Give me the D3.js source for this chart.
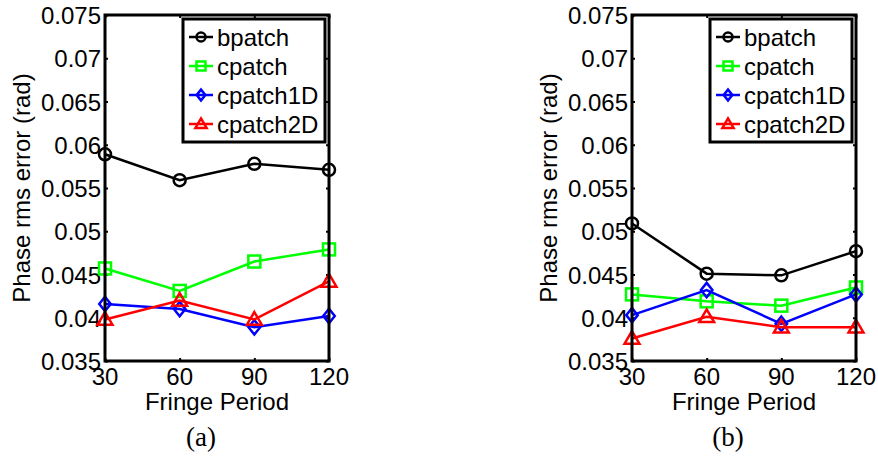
<!DOCTYPE html>
<html>
<head>
<meta charset="utf-8">
<script src="https://cdn.jsdelivr.net/npm/d3@7"></script>
<style>
body { margin: 0; background: #fff; }
</style>
</head>
<body>
<div id="chart"></div>
<script>
const periods = [30, 60, 90, 120];
const yTicks = [0.035, 0.04, 0.045, 0.05, 0.055, 0.06, 0.065, 0.07, 0.075];
const seriesNames = ["bpatch", "cpatch", "cpatch1D", "cpatch2D"];

// panel (a)
const a_bpatch = [0.0589, 0.0559, 0.0578, 0.0571];
const a_cpatch = [0.0457, 0.0431, 0.0465, 0.0479];
const a_cpatch1D = [0.0416, 0.0410, 0.0389, 0.0402];
const a_cpatch2D = [0.0398, 0.0420, 0.0398, 0.0442];

// panel (b)
const b_bpatch = [0.0509, 0.0451, 0.0449, 0.0477];
const b_cpatch = [0.0427, 0.0419, 0.0414, 0.0435];
const b_cpatch1D = [0.0403, 0.0432, 0.0393, 0.0427];
const b_cpatch2D = [0.0376, 0.0401, 0.0389, 0.0389];

const colors = ["#000000", "#00ff00", "#0000ff", "#ff0000"];
const shapes = ["circle", "square", "diamond", "triangle"];

const W = 878, H = 457;
const svg = d3.select("#chart").append("svg")
    .attr("width", W).attr("height", H)
    .style("font-family", "Liberation Sans, Arial, sans-serif");

function marker(g, shape, x, y, s, color, sw) {
    let el;
    if (shape == "circle") {
        el = g.append("circle").attr("cx", x).attr("cy", y).attr("r", s / 2);
    } else if (shape == "square") {
        el = g.append("rect").attr("x", x - s / 2).attr("y", y - s / 2)
            .attr("width", s).attr("height", s);
    } else if (shape == "diamond") {
        const r = s * 0.6;
        el = g.append("path").attr("d", `M${x},${y - r}L${x + r * 0.8},${y}L${x},${y + r}L${x - r * 0.8},${y}Z`);
    } else {
        const r = s * 0.62;
        el = g.append("path").attr("d", `M${x},${y - r}L${x + r},${y + r * 0.7}L${x - r},${y + r * 0.7}Z`);
    }
    el.attr("fill", "none").attr("stroke", color).attr("stroke-width", sw);
}

function panel(left, series, label) {
    const x0 = left, x1 = left + 224, y0 = 15, y1 = 361;
    const x = d3.scaleLinear().domain([30, 120]).range([x0, x1]);
    const y = d3.scaleLinear().domain([0.035, 0.075]).range([y1, y0]);
    const g = svg.append("g");

    // inner ticks on all sides
    g.append("g").attr("transform", `translate(0,${y1})`)
        .call(d3.axisBottom(x).tickValues(periods).tickSize(-3).tickFormat(""))
        .call(a => a.select(".domain").remove());
    g.append("g").attr("transform", `translate(0,${y0})`)
        .call(d3.axisTop(x).tickValues(periods).tickSize(-3).tickFormat(""))
        .call(a => a.select(".domain").remove());
    g.append("g").attr("transform", `translate(${x0},0)`)
        .call(d3.axisLeft(y).tickValues(yTicks).tickSize(-3).tickFormat(""))
        .call(a => a.select(".domain").remove());
    g.append("g").attr("transform", `translate(${x1},0)`)
        .call(d3.axisRight(y).tickValues(yTicks).tickSize(-3).tickFormat(""))
        .call(a => a.select(".domain").remove());
    g.selectAll(".tick line").attr("stroke", "#000").attr("stroke-width", 2);

    // tick labels
    g.selectAll(".xl").data(periods).join("text")
        .attr("x", d => x(d)).attr("y", 385)
        .attr("text-anchor", "middle").attr("font-size", 24).text(d => d);
    g.selectAll(".yl").data(yTicks).join("text")
        .attr("x", x0 - 4).attr("y", d => y(d) + 9)
        .attr("text-anchor", "end").attr("font-size", 24)
        .text(d => d3.format(".3~f")(d));

    // lines + markers
    const line = d3.line().x((d, i) => x(periods[i])).y(d => y(d));
    series.forEach((vals, k) => {
        g.append("path").datum(vals).attr("d", line)
            .attr("fill", "none").attr("stroke", colors[k]).attr("stroke-width", 2.5);
        vals.forEach((v, i) => marker(g, shapes[k], x(periods[i]), y(v), 12, colors[k], 2.5));
    });

    // box
    g.append("rect").attr("x", x0).attr("y", y0).attr("width", x1 - x0).attr("height", y1 - y0)
        .attr("fill", "none").attr("stroke", "#000").attr("stroke-width", 3);

    // legend
    const lx = left + 78, ly = 19;
    g.append("rect").attr("x", lx).attr("y", ly).attr("width", 142).attr("height", 123)
        .attr("fill", "#fff").attr("stroke", "#000").attr("stroke-width", 3);
    seriesNames.forEach((n, k) => {
        const yy = ly + 18 + k * 29;
        g.append("line").attr("x1", lx + 6).attr("x2", lx + 30).attr("y1", yy).attr("y2", yy)
            .attr("stroke", colors[k]).attr("stroke-width", 2.5);
        marker(g, shapes[k], lx + 18, yy, 9, colors[k], 2.5);
        g.append("text").attr("x", lx + 34).attr("y", yy + 9).attr("font-size", 24).text(n);
    });

    // axis titles
    g.append("text").attr("x", (x0 + x1) / 2).attr("y", 410)
        .attr("text-anchor", "middle").attr("font-size", 24).text("Fringe Period");
    g.append("text").attr("transform", `translate(${x0 - 75},${(y0 + y1) / 2}) rotate(-90)`)
        .attr("text-anchor", "middle").attr("font-size", 24).text("Phase rms error (rad)");
    g.append("text").attr("x", (x0 + x1) / 2 - 16).attr("y", 446)
        .attr("text-anchor", "middle").attr("font-size", 27)
        .style("font-family", "Liberation Serif, Times New Roman, serif").text(label);
}

panel(105, [a_bpatch, a_cpatch, a_cpatch1D, a_cpatch2D], "(a)");
panel(632, [b_bpatch, b_cpatch, b_cpatch1D, b_cpatch2D], "(b)");
</script>
</body>
</html>
